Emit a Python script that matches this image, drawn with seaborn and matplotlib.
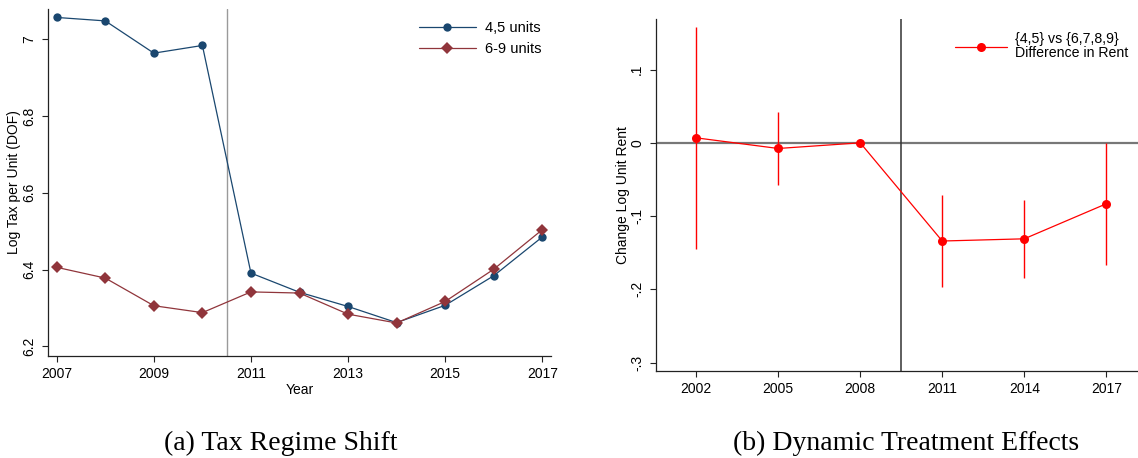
import numpy as np
import pandas as pd
import matplotlib
matplotlib.use("Agg")
import matplotlib.pyplot as plt
import seaborn as sns

# Panel (a): log tax per unit by building size
years_a = [2007, 2008, 2009, 2010, 2011, 2012, 2013, 2014, 2015, 2016, 2017]
tax_45_units = [7.057, 7.048, 6.964, 6.984, 6.391, 6.341, 6.304, 6.262, 6.307, 6.384, 6.485]
tax_69_units = [6.406, 6.378, 6.306, 6.288, 6.342, 6.339, 6.284, 6.261, 6.317, 6.401, 6.504]
series_labels = ["4,5 units", "6-9 units"]

# Panel (b): event-study coefficients with confidence intervals
years_b = [2002, 2005, 2008, 2011, 2014, 2017]
effect = [0.0068, -0.0077, 0.0, -0.134, -0.131, -0.0832]
ci_low = [-0.1445, -0.0577, 0.0, -0.197, -0.184, -0.1664]
ci_high = [0.1575, 0.0423, 0.0, -0.0709, -0.078, 0.0]
effect_label = "{4,5} vs {6,7,8,9}\nDifference in Rent"

yticks_a = [6.2, 6.4, 6.6, 6.8, 7.0]
yticklabels_a = ["6.2", "6.4", "6.6", "6.8", "7"]
xticks_a = [2007, 2009, 2011, 2013, 2015, 2017]
yticks_b = [-0.3, -0.2, -0.1, 0.0, 0.1]
yticklabels_b = ["-.3", "-.2", "-.1", "0", ".1"]

BLUE = "#1a476f"
MAROON = "#90353b"
RED = "#ff0000"

sns.set_style("ticks")
plt.rcParams["font.family"] = ["Liberation Sans", "DejaVu Sans"]
plt.rcParams["font.size"] = 10
for key in ("text.color", "axes.labelcolor", "xtick.color", "ytick.color"):
    plt.rcParams[key] = "black"

W, H = 1138, 458
fig = plt.figure(figsize=(W / 100, H / 100), dpi=100)


def px_axes(left, top, right, bottom):
    return fig.add_axes([left / W, 1 - bottom / H, (right - left) / W, (bottom - top) / H])


def style_axes(ax):
    sns.despine(ax=ax)
    for s in ("left", "bottom"):
        ax.spines[s].set_linewidth(0.9)
        ax.spines[s].set_color("#222222")
    ax.tick_params(axis="both", length=4.5, width=0.8, color="#222222", labelsize=10)
    ax.tick_params(axis="y", pad=4)
    ax.tick_params(axis="x", pad=3.5)
    for lab in ax.get_yticklabels():
        lab.set_rotation(90)
        lab.set_va("center")
        lab.set_ha("right")


# ---------- (a) Tax regime shift ----------
df_a = pd.DataFrame({
    "year": years_a * 2,
    "tax": tax_45_units + tax_69_units,
    "group": [series_labels[0]] * len(years_a) + [series_labels[1]] * len(years_a),
})

ax1 = px_axes(48, 9, 551, 356)
ax1.axvline(2010.5, color="#9a9a9a", lw=1.0, zorder=1)
sns.lineplot(
    data=df_a, x="year", y="tax", hue="group", style="group",
    palette=[BLUE, MAROON], markers=["o", "D"], dashes=False,
    markersize=6, markeredgewidth=0, linewidth=0.9, ax=ax1, zorder=3,
)
ax1.set_xlim(2006.82, 2017.18)
ax1.set_ylim(6.175, 7.079)
ax1.set_xticks(xticks_a)
ax1.set_yticks(yticks_a)
ax1.set_yticklabels(yticklabels_a)
ax1.set_xlabel("Year", fontsize=10, labelpad=1)
ax1.set_ylabel("Log Tax per Unit (DOF)", fontsize=10, labelpad=0.5)
style_axes(ax1)
leg1 = ax1.legend(
    loc="upper left", bbox_to_anchor=(419 / W, 1 - 21 / H), bbox_transform=fig.transFigure,
    frameon=False, borderpad=0, borderaxespad=0, handlelength=3.9, handletextpad=0.6,
    labelspacing=0.5, fontsize=10.5,
)

# ---------- (b) Dynamic treatment effects ----------
df_b = pd.DataFrame({"year": years_b, "effect": effect, "lo": ci_low, "hi": ci_high})

ax2 = px_axes(656, 19, 1138, 371)
ax2.axhline(0, color="#777777", lw=1.6, zorder=1)
ax2.axvline(2009.5, color="#333333", lw=1.1, zorder=1)
ax2.vlines(df_b["year"], df_b["lo"], df_b["hi"], color=RED, lw=1.0, zorder=2)
sns.lineplot(
    data=df_b, x="year", y="effect", color=RED, marker="o", markersize=6.5,
    markeredgewidth=0, linewidth=0.9, label=effect_label, ax=ax2, zorder=3,
)
ax2.set_xlim(2000.53, 2018.16)
ax2.set_ylim(-0.3114, 0.169)
ax2.set_xticks(years_b)
ax2.set_yticks(yticks_b)
ax2.set_yticklabels(yticklabels_b)
ax2.set_xlabel("")
ax2.set_ylabel("Change Log Unit Rent", fontsize=10, labelpad=0)
style_axes(ax2)
leg2 = ax2.legend(
    loc="upper left", bbox_to_anchor=(955 / W, 1 - 32 / H), bbox_transform=fig.transFigure,
    frameon=False, borderpad=0, borderaxespad=0, handlelength=3.7, handletextpad=0.55,
    prop={"size": 10.2},
)
for t in leg2.get_texts():
    t.set_linespacing(1.0)

# ---------- sub-captions ----------
cap_font = ["Liberation Serif", "DejaVu Serif"]
fig.text(281 / W, 1 - 450 / H, "(a) Tax Regime Shift", family=cap_font, fontsize=20,
         ha="center", va="baseline")
fig.text(906 / W, 1 - 450 / H, "(b) Dynamic Treatment Effects", family=cap_font, fontsize=20,
         ha="center", va="baseline")

fig.savefig("out.png", dpi=100)
